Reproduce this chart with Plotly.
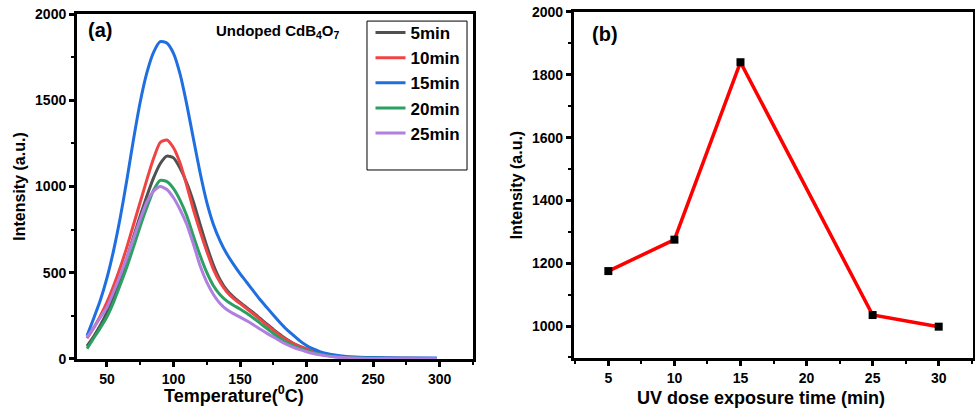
import plotly.graph_objects as go

# ---------------- Panel (a) data ----------------
temp = [35, 40, 45, 50, 55, 60, 65, 70, 75, 80, 85, 90, 95, 100, 105, 110, 115, 120,
        125, 130, 135, 140, 145, 150, 155, 160, 165, 170, 175, 180, 185, 190, 195, 200,
        205, 210, 215, 220, 230, 240, 250, 270, 298]

i_5min = [75, 130, 195, 270, 360, 465, 585, 710, 830, 945, 1050, 1132, 1176, 1166, 1105, 1020, 910, 780,
          655, 545, 460, 400, 360, 328, 298, 268, 236, 204, 172, 142, 114, 91, 73, 58,
          45, 34, 25, 18, 10, 7, 5, 4, 3]
i_10min = [120, 180, 250, 330, 425, 530, 650, 780, 910, 1040, 1162, 1255, 1270, 1225, 1135, 1005, 865, 740,
           625, 520, 445, 390, 352, 322, 292, 262, 230, 198, 167, 137, 111, 89, 72, 58,
           45, 34, 26, 19, 11, 7, 5, 4, 3]
i_15min = [135, 235, 340, 470, 630, 820, 1040, 1275, 1490, 1660, 1778, 1840, 1832, 1772, 1650, 1475, 1275, 1080,
           910, 780, 685, 610, 550, 495, 445, 395, 345, 300, 255, 212, 172, 138, 105, 78,
           58, 43, 32, 24, 14, 10, 8, 6, 5]
i_20min = [60, 120, 180, 245, 330, 430, 535, 650, 770, 880, 978, 1036, 1028, 988, 920, 830, 712, 600,
           502, 425, 373, 337, 312, 290, 265, 238, 208, 178, 148, 120, 96, 76, 61, 48,
           37, 28, 21, 15, 8, 5, 4, 3, 2]
i_25min = [125, 180, 240, 300, 390, 485, 590, 700, 810, 910, 972, 1000, 983, 935, 865, 780, 665, 540,
           445, 374, 322, 287, 263, 243, 222, 199, 174, 150, 127, 105, 85, 68, 54, 42,
           32, 24, 18, 13, 7, 4, 3, 2, 2]

series_names = ["5min", "10min", "15min", "20min", "25min"]
series_vals = [i_5min, i_10min, i_15min, i_20min, i_25min]
series_colors = ["#505050", "#f04444", "#1f6fe0", "#2ca062", "#b07fe0"]

# ---------------- Panel (b) data ----------------
uv_time = [5, 10, 15, 25, 30]
uv_intensity = [1175, 1275, 1840, 1035, 998]

FONT = "Liberation Sans, Arial, sans-serif"

fig = go.Figure()

for name, vals, col in zip(series_names, series_vals, series_colors):
    fig.add_trace(go.Scatter(
        x=temp, y=vals, mode="lines", name=name,
        line=dict(color=col, width=3, shape="spline", smoothing=0.6),
        xaxis="x", yaxis="y", showlegend=True,
    ))

fig.add_trace(go.Scatter(
    x=uv_time, y=uv_intensity, mode="lines+markers", name="b",
    line=dict(color="#ff0000", width=3.5),
    marker=dict(symbol="square", size=8, color="black"),
    xaxis="x2", yaxis="y2", showlegend=False,
))

axis_common = dict(
    showline=True, linewidth=3, linecolor="black", mirror=True,
    ticks="outside", ticklen=5, tickwidth=3, tickcolor="black",
    showgrid=False, zeroline=False, automargin=False,
    tickfont=dict(family=FONT, size=14, color="black", weight="bold"),
)
minor_common = dict(ticks="outside", ticklen=3, tickwidth=2, tickcolor="black", showgrid=False)

fig.update_layout(
    width=975, height=413,
    margin=dict(l=0, r=0, t=0, b=0, autoexpand=False),
    paper_bgcolor="white", plot_bgcolor="white",
    font=dict(family=FONT, color="black"),
    xaxis=dict(
        domain=[0.079, 0.485], anchor="y", range=[27.5, 325],
        tick0=50, dtick=50,
        minor=dict(dtick=25, tick0=25, **minor_common),
        **axis_common,
    ),
    yaxis=dict(
        domain=[0.1308, 0.966], anchor="x", range=[0, 2000],
        tick0=0, dtick=500,
        minor=dict(dtick=250, tick0=0, **minor_common),
        title=dict(text="Intensity (a.u.)", standoff=6,
                   font=dict(family=FONT, size=16, color="black", weight="bold")),
        **axis_common,
    ),
    xaxis2=dict(
        domain=[0.5887, 0.998], anchor="y2", range=[2.4, 32.6],
        tick0=5, dtick=5,
        minor=dict(dtick=2.5, tick0=2.5, **minor_common),
        **axis_common,
    ),
    yaxis2=dict(
        domain=[0.133, 0.971], anchor="x2", range=[898, 2000],
        tick0=1000, dtick=200,
        minor=dict(dtick=100, tick0=900, **minor_common),
        title=dict(text="Intensity (a.u.)", standoff=6,
                   font=dict(family=FONT, size=16, color="black", weight="bold")),
        **axis_common,
    ),
    legend=dict(
        x=0.380, y=0.9635, xanchor="left", yanchor="top",
        bgcolor="rgba(0,0,0,0)", borderwidth=0,
        font=dict(family=FONT, size=17, color="black", weight="bold"),
        tracegroupgap=0, itemwidth=30,
    ),
    shapes=[
        # legend frame (taller than the entries, as in the original)
        dict(type="rect", xref="paper", yref="paper",
             x0=0.3764, x1=0.479, y0=0.5884, y1=0.949,
             line=dict(color="black", width=1), fillcolor="rgba(0,0,0,0)", layer="above"),
    ],
    annotations=[
        dict(text="<b>(a)</b>", x=0.088, y=0.96, xref="paper", yref="paper",
             xanchor="left", yanchor="top", showarrow=False,
             font=dict(family=FONT, size=20, color="black")),
        dict(text="<b>Undoped CdB<sub>4</sub>O<sub>7</sub></b>", x=0.219, y=0.952, xref="paper", yref="paper",
             xanchor="left", yanchor="top", showarrow=False,
             font=dict(family=FONT, size=15, color="black")),
        dict(text="<b>(b)</b>", x=0.605, y=0.948, xref="paper", yref="paper",
             xanchor="left", yanchor="top", showarrow=False,
             font=dict(family=FONT, size=20, color="black")),
        dict(text="<b>Temperature(<sup>0</sup>C)</b>", x=0.240, y=0.044, xref="paper", yref="paper",
             xanchor="center", yanchor="middle", showarrow=False,
             font=dict(family=FONT, size=18, color="black")),
        dict(text="<b>UV dose exposure time (min)</b>", x=0.7805, y=0.036, xref="paper", yref="paper",
             xanchor="center", yanchor="middle", showarrow=False,
             font=dict(family=FONT, size=18, color="black")),
    ],
)

fig.write_html("out.html")
